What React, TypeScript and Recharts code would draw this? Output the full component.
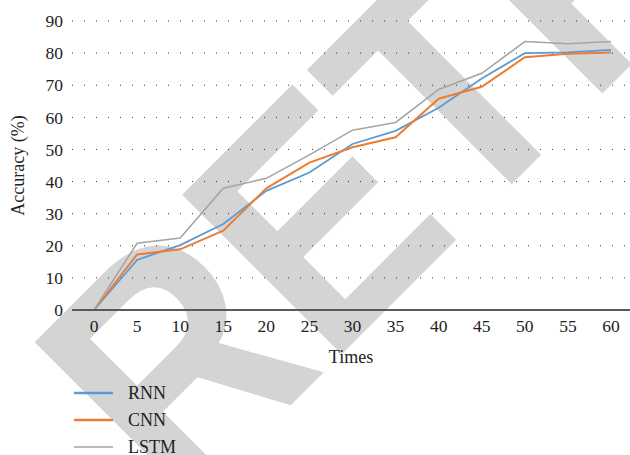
import { LineChart, Line, XAxis, YAxis, CartesianGrid } from "recharts";

const times = [0, 5, 10, 15, 20, 25, 30, 35, 40, 45, 50, 55, 60];
const rnn = [0, 15.6, 20.2, 26.8, 37.1, 42.8, 51.7, 55.8, 63.0, 72.1, 80.0, 80.2, 81.0];
const cnn = [0, 17.3, 18.9, 24.7, 37.9, 45.9, 50.7, 53.8, 65.8, 69.5, 78.7, 79.8, 80.2];
const lstm = [0, 20.8, 22.4, 37.9, 41.0, 48.3, 56.0, 58.4, 68.7, 73.7, 83.6, 82.9, 83.6];
const yTicks = [0, 10, 20, 30, 40, 50, 60, 70, 80, 90];

const serif = "Liberation Serif";
const textColor = "#222";

const series = [
  { key: "rnn", name: "RNN", color: "#5B9BD5", width: 1.8, legendWidth: 2.6 },
  { key: "cnn", name: "CNN", color: "#ED7D31", width: 2, legendWidth: 2.6 },
  { key: "lstm", name: "LSTM", color: "#A5A5A5", width: 1.6, legendWidth: 1.6 },
];

const data = times.map((t, i) => ({ t, rnn: rnn[i], cnn: cnn[i], lstm: lstm[i] }));

const tickStyle = { fill: textColor, fontSize: 17.5, fontFamily: serif, style: { fontFamily: serif } };

function Watermark() {
  return (
    <svg width={630} height={455} style={{ position: "absolute", left: 0, top: 0 }}>
      <text
        transform="translate(180.6,515.4) rotate(-45) scale(0.88,1)"
        style={{ fontFamily: "Liberation Sans", fontWeight: 700, fontSize: 328 }}
        fill="#d4d4d4"
      >
        RETRACTED
      </text>
    </svg>
  );
}

function LegendBox() {
  return (
    <div style={{ position: "absolute", left: 0, top: 0, width: 630, height: 455, pointerEvents: "none" }}>
      {series.map((s, i) => (
        <div key={s.key} style={{ position: "absolute", left: 74, top: 393 + i * 27 - 11, height: 22, display: "flex", alignItems: "center" }}>
          <svg width={40} height={22}>
            <line x1={0} x2={39} y1={11} y2={11} stroke={s.color} strokeWidth={s.legendWidth} />
          </svg>
          <span style={{ marginLeft: 14, fontFamily: serif, fontSize: 18, color: textColor }}>{s.name}</span>
        </div>
      ))}
    </div>
  );
}

export default function App() {
  return (
    <div style={{ position: "absolute", left: 0, top: 0, width: 630, height: 455, background: "#fff", fontFamily: serif }}>
      <Watermark />
      <div style={{ position: "absolute", left: 0, top: 0 }}>
        <LineChart
          width={630}
          height={455}
          data={data}
          margin={{ top: 21, right: 0, left: 0, bottom: 85 }}
          style={{ fontFamily: serif }}
        >
          <CartesianGrid vertical={false} stroke="#333" strokeDasharray="1 11" />
          <XAxis
            dataKey="t"
            type="category"
            height={60}
            padding={{ left: 22, right: 19 }}
            axisLine={{ stroke: "#595959", strokeWidth: 2 }}
            tickLine={false}
            tickSize={0}
            tickMargin={10}
            tick={tickStyle}
            label={{ value: "Times", position: "insideBottom", offset: 7, fill: textColor, fontSize: 18, style: { fontFamily: serif } }}
          />
          <YAxis
            domain={[0, 90]}
            ticks={yTicks}
            width={72}
            axisLine={false}
            tickLine={false}
            tickSize={0}
            tickMargin={9}
            tick={tickStyle}
            label={{ value: "Accuracy (%)", angle: -90, position: "insideLeft", offset: 18, fill: textColor, fontSize: 18, style: { textAnchor: "middle", fontFamily: serif } }}
          />
          {series.map((s) => (
            <Line
              key={s.key}
              type="linear"
              dataKey={s.key}
              name={s.name}
              stroke={s.color}
              strokeWidth={s.width}
              dot={false}
              activeDot={false}
              isAnimationActive={false}
            />
          ))}
        </LineChart>
      </div>
      <LegendBox />
    </div>
  );
}
